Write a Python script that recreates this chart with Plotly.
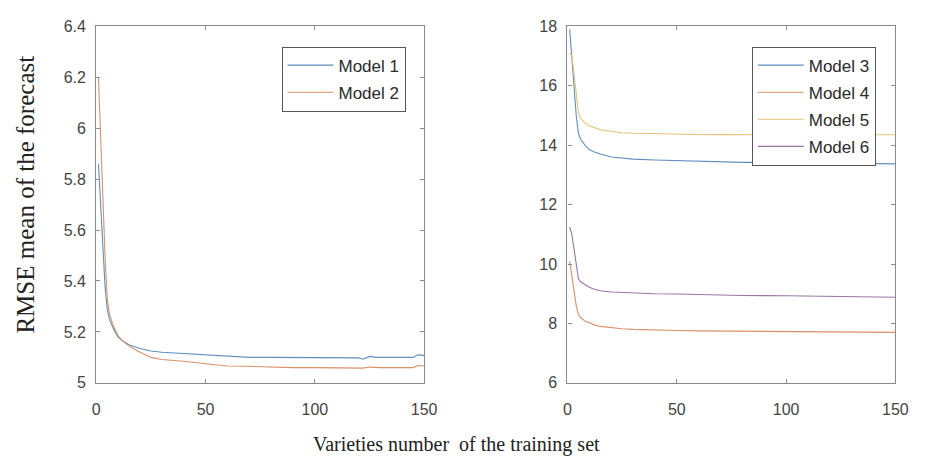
import plotly.graph_objects as go

# Left panel data
x_left = [1, 2, 3, 4, 5, 6, 8, 10, 12, 15, 20, 25, 30, 40, 50, 60, 70, 80, 90, 100,
          110, 120, 122, 125, 128, 130, 140, 145, 147, 150]
model1 = [5.86, 5.70, 5.52, 5.38, 5.29, 5.25, 5.21, 5.18, 5.165, 5.15, 5.135, 5.125, 5.12,
          5.115, 5.11, 5.104, 5.10, 5.10, 5.10, 5.10, 5.10, 5.098, 5.093, 5.104, 5.10, 5.10,
          5.10, 5.10, 5.11, 5.108]
model2 = [6.20, 5.95, 5.70, 5.50, 5.33, 5.27, 5.22, 5.185, 5.165, 5.145, 5.12, 5.10, 5.092,
          5.085, 5.075, 5.066, 5.065, 5.061, 5.06, 5.06, 5.06, 5.058, 5.058, 5.062, 5.061, 5.06,
          5.06, 5.06, 5.068, 5.066]

# Right panel data
x_right = [1, 2, 3, 4, 5, 6, 8, 10, 12, 15, 20, 25, 30, 40, 50, 60, 70, 80, 100, 120, 140, 150]
model3 = [17.9, 16.9, 15.9, 15.0, 14.4, 14.2, 14.0, 13.85, 13.78, 13.7, 13.6, 13.56, 13.53,
          13.5, 13.48, 13.46, 13.43, 13.42, 13.42, 13.4, 13.38, 13.37]
model4 = [10.1, 9.6, 9.1, 8.6, 8.3, 8.2, 8.08, 8.02, 7.96, 7.9, 7.85, 7.82, 7.8, 7.77, 7.76,
          7.75, 7.745, 7.74, 7.73, 7.72, 7.71, 7.7]
model5 = [17.1, 17.0, 16.4, 15.7, 15.1, 14.9, 14.75, 14.65, 14.6, 14.52, 14.47, 14.42, 14.4,
          14.38, 14.37, 14.36, 14.355, 14.35, 14.35, 14.35, 14.35, 14.35]
model6 = [11.25, 11.0, 10.5, 10.0, 9.5, 9.4, 9.3, 9.22, 9.16, 9.1, 9.06, 9.04, 9.02, 9.0, 8.99,
          8.97, 8.95, 8.94, 8.93, 8.92, 8.9, 8.88]

left_ticks = [5, 5.2, 5.4, 5.6, 5.8, 6, 6.2, 6.4]
left_ticktext = ["5", "5.2", "5.4", "5.6", "5.8", "6", "6.2", "6.4"]
right_ticks = [6, 8, 10, 12, 14, 16, 18]
x_ticks = [0, 50, 100, 150]

colors = ["#5f8fbf", "#d9906b", "#e3c275", "#9a76a4"]


def line_trace(x, y, name, color, xa, ya, leg):
    return go.Scatter(x=x, y=y, name=name, mode="lines", legendgroup=name,
                      line=dict(color=color, width=1.1), xaxis=xa, yaxis=ya, legend=leg)


fig = go.Figure()
fig.add_trace(line_trace(x_left, model1, "Model 1", colors[0], "x", "y", "legend"))
fig.add_trace(line_trace(x_left, model2, "Model 2", colors[1], "x", "y", "legend"))
fig.add_trace(line_trace(x_right, model3, "Model 3", colors[0], "x2", "y2", "legend2"))
fig.add_trace(line_trace(x_right, model4, "Model 4", colors[1], "x2", "y2", "legend2"))
fig.add_trace(line_trace(x_right, model5, "Model 5", colors[2], "x2", "y2", "legend2"))
fig.add_trace(line_trace(x_right, model6, "Model 6", colors[3], "x2", "y2", "legend2"))

W, H = 928, 468


def xp(p):
    return p / W


def yp(p):
    return 1 - p / H


ydom = [yp(389), yp(19)]
tickfont = dict(family="Liberation Sans, Arial, sans-serif", size=16, color="#444444")
axis_common = dict(showline=True, linecolor="#8a8a8a", linewidth=1.3, mirror="ticks",
                   ticks="inside", ticklen=4, tickcolor="#8a8a8a", showgrid=False,
                   zeroline=False, tickfont=tickfont)

legend_common = dict(bgcolor="white", bordercolor="#555555", borderwidth=1,
                     font=dict(family="Liberation Sans, Arial, sans-serif", size=17, color="#2a2a2a"),
                     xanchor="right", yanchor="top", itemwidth=46, tracegroupgap=2)

fig.update_layout(
    width=W, height=H,
    margin=dict(l=0, r=0, t=0, b=0),
    paper_bgcolor="white", plot_bgcolor="white",
    xaxis=dict(domain=[xp(94), xp(428)], range=[0, 150], tickvals=x_ticks, anchor="y",
               ticklabelstandoff=12, **axis_common),
    yaxis=dict(domain=ydom, range=[5, 6.4], tickvals=left_ticks, ticktext=left_ticktext,
               anchor="x", ticklabelstandoff=6, **axis_common),
    xaxis2=dict(domain=[xp(574), xp(908)], range=[0, 150], tickvals=x_ticks, anchor="y2",
                ticklabelstandoff=12, **axis_common),
    yaxis2=dict(domain=ydom, range=[6, 18], tickvals=right_ticks, anchor="x2",
                ticklabelstandoff=6, **axis_common),
    legend=dict(x=xp(409), y=yp(40), **legend_common),
    legend2=dict(x=xp(888), y=yp(40), **legend_common),
    annotations=[
        dict(text="Varieties number  of the training set", x=xp(461), y=yp(453),
             xref="paper", yref="paper", showarrow=False, xanchor="center", yanchor="middle",
             font=dict(family="Liberation Serif, Times New Roman, serif", size=20, color="#222222")),
        dict(text="RMSE mean of the forecast", x=xp(22), y=yp(194), textangle=-90,
             xref="paper", yref="paper", showarrow=False, xanchor="center", yanchor="middle",
             font=dict(family="Liberation Serif, Times New Roman, serif", size=25, color="#222222")),
    ],
)

fig.write_html("out.html")
